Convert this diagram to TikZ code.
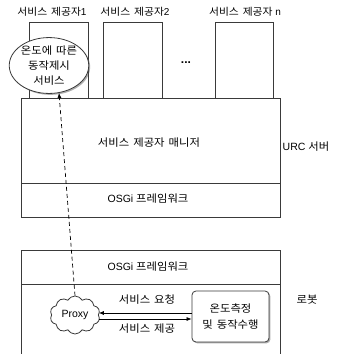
\documentclass[tikz,border=0pt]{standalone}
\usepackage{fontspec}
\setmainfont{Liberation Sans}
\newfontfamily\kr{Noto Sans CJK KR}[FakeStretch=1.08,WordSpace=1.6]
\newcommand{\K}[1]{{\kr #1}}
\usetikzlibrary{shapes.geometric,shapes.symbols,shadows,arrows.meta}
\definecolor{ln}{HTML}{3A3A3A}
\tikzset{
  shd/.style={drop shadow={shadow xshift=1.4pt,shadow yshift=-1.4pt,opacity=0.45,fill=black!70}},
  provbox/.style={draw=ln,line width=0.9pt,fill=white,shd},
  layer/.style={draw=ln,line width=0.9pt,fill=white,shd},
  lbl/.style={font=\fontsize{10.5}{12}\selectfont,inner sep=0pt},
  arr/.style={-{Latex[length=5pt,width=4pt]},line width=0.7pt,draw=black},
}
\begin{document}
\begin{tikzpicture}[x=1pt,y=-1pt]
\useasboundingbox (0,0) rectangle (337,354);
% service providers
\draw[provbox] (29,22) rectangle (88,98);
\draw[provbox] (103,22) rectangle (162,98);
\draw[provbox] (215,22) rectangle (273,98);
\node[lbl,font=\fontsize{10}{12}\selectfont] (l1) at (52,12) {\K{서비스 제공자}1};
\node[lbl,font=\fontsize{10}{12}\selectfont] (l2) at (135,12) {\K{서비스 제공자}2};
\node[lbl,font=\fontsize{10}{12}\selectfont] (ln) at (245,12) {\K{서비스 제공자} n};
\node[lbl,font=\fontsize{12}{12}\selectfont] (dots) at (186,63) {\textbf{...}};
% URC server
\node[layer,minimum width=259pt,minimum height=119pt,inner sep=0pt] (urc) at (150.5,157.5) {};
\draw[ln,line width=0.6pt] (21,183) -- (280,183);
\node[lbl] (mgr) at (149,143) {\K{서비스 제공자 매니저}};
\node[lbl] (osgi1) at (148,199) {OSGi \K{프레임워크}};
\node[lbl] (urcl) at (306,147) {URC \K{서버}};
% ellipse service
\node[ellipse,draw=ln,line width=0.8pt,fill=white,shd,minimum width=78pt,minimum height=47pt,inner sep=0pt,align=center,lbl,font=\fontsize{10.5}{15}\selectfont] (svc) at (49,65.5) {\K{온도에 따른}\\\K{동작제시}\\\K{서비스}};
% robot
\node[layer,minimum width=259pt,minimum height=104pt,inner sep=0pt] (robot) at (150.5,302) {};
\draw[ln,line width=0.6pt] (21,284) -- (280,284);
\node[lbl] (osgi2) at (148,267) {OSGi \K{프레임워크}};
\node[lbl] (robl) at (307,300) {\K{로봇}};
\node[cloud,cloud puffs=10,cloud puff arc=120,aspect=1.4,draw=ln,line width=0.8pt,fill=white,minimum width=50pt,minimum height=38pt,inner sep=0pt,lbl] (proxy) at (75,315) {Proxy};
\node[draw=ln,line width=0.8pt,rounded corners=4pt,fill=white,minimum width=77pt,minimum height=51pt,align=center,lbl,font=\fontsize{10.5}{16}\selectfont,shd] (act) at (230.5,316.5) {\K{온도측정}\\\K{및 동작수행}};
\draw[arr] ([yshift=3.5pt]act.west) -- ([yshift=3.5pt]act.west -| proxy.east);
\draw[arr] ([yshift=-2.5pt]act.west -| proxy.east) -- ([yshift=-2.5pt]act.west);
\node[lbl] (req) at (147,300) {\K{서비스 요청}};
\node[lbl] (prov) at (147,329) {\K{서비스 제공}};
\draw[arr,dashed,dash pattern=on 4pt off 3pt] (proxy.north) -- (svc.-70);
\end{tikzpicture}
\end{document}
